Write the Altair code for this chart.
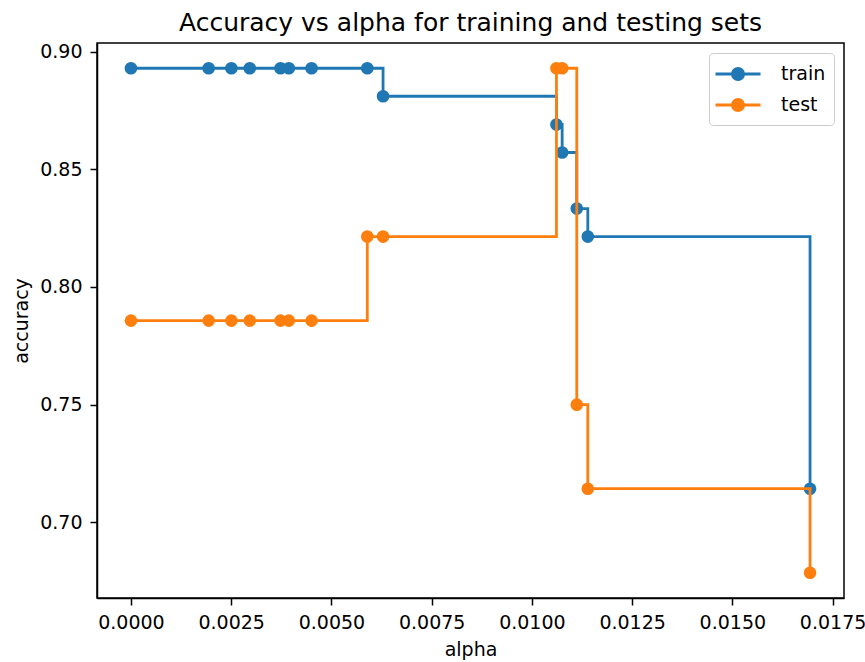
import altair as alt
import pandas as pd

# Cost-complexity pruning path: alpha values and accuracies per tree
alphas = [0.0, 0.001938, 0.002505, 0.002963, 0.00373, 0.003938, 0.004505,
          0.005895, 0.006288, 0.010613, 0.010755, 0.01112, 0.011395, 0.016938]
train_scores = [0.8929, 0.8929, 0.8929, 0.8929, 0.8929, 0.8929, 0.8929,
                0.8929, 0.8810, 0.8690, 0.8571, 0.8333, 0.8214, 0.7143]
test_scores = [0.7857, 0.7857, 0.7857, 0.7857, 0.7857, 0.7857, 0.7857,
               0.8214, 0.8214, 0.8929, 0.8929, 0.7500, 0.7143, 0.6786]

series = ["train", "test"]
colors = ["#1f77b4", "#ff7f0e"]
x_ticks = [0.0, 0.0025, 0.005, 0.0075, 0.01, 0.0125, 0.015, 0.0175]
y_ticks = [0.70, 0.75, 0.80, 0.85, 0.90]

rows = []
for name, scores in zip(series, [train_scores, test_scores]):
    for a, s in zip(alphas, scores):
        rows.append({"alpha": a, "accuracy": s, "set": name})
df = pd.DataFrame(rows)

# 5% data margins on both axes
def padded(lo, hi, frac=0.05):
    span = hi - lo
    return [lo - frac * span, hi + frac * span]

all_scores = train_scores + test_scores
x_dom = padded(min(alphas), max(alphas))
y_dom = padded(min(all_scores), max(all_scores))

FONT = "DejaVu Sans"
# legend glyph: a short line with a filled dot in the middle
legend_symbol = "M-2,0H2M-0.5,0A0.5,0.5 0 1,1 0.5,0A0.5,0.5 0 1,1 -0.5,0Z"

base = alt.Chart(df).encode(
    x=alt.X("alpha:Q",
            scale=alt.Scale(domain=x_dom, nice=False, zero=False),
            axis=alt.Axis(values=x_ticks, format=".4f", title="alpha")),
    y=alt.Y("accuracy:Q",
            scale=alt.Scale(domain=y_dom, nice=False, zero=False),
            axis=alt.Axis(values=y_ticks, format=".2f", title="accuracy")),
    color=alt.Color("set:N",
                    scale=alt.Scale(domain=series, range=colors),
                    legend=alt.Legend(
                        title=None, orient="top-right", offset=10,
                        symbolType=legend_symbol, symbolSize=506,
                        symbolStrokeWidth=2.8, symbolOpacity=1,
                        symbolOffset=8, labelOffset=30,
                        labelFontSize=19, labelFont=FONT, labelColor="black",
                        padding=8, rowPadding=6,
                        fillColor="white", strokeColor="#cccccc",
                        cornerRadius=4)),
)

layers = []
for name in series:
    sub = base.transform_filter(alt.datum.set == name)
    layers.append(sub.mark_line(interpolate="step-after", strokeWidth=2.8))
    layers.append(sub.mark_point(filled=True, size=160, opacity=1, shape="circle"))

chart = alt.layer(*layers).properties(
    width=747,
    height=555,
    title="Accuracy vs alpha for training and testing sets",
    autosize=alt.AutoSizeParams(type="none"),
    padding={"left": 97, "top": 43, "right": 21, "bottom": 64},
).configure_view(
    stroke="black", strokeWidth=1.5
).configure_axis(
    grid=False, domainColor="black", domainWidth=1.5,
    tickColor="black", tickWidth=1.5, tickSize=7,
    labelPadding=8, labelFont=FONT, labelFontSize=19, labelColor="black",
    labelFlush=False, labelOverlap=False,
    titleFont=FONT, titleFontSize=19, titleColor="black",
    titleFontWeight="normal", titlePadding=8,
).configure_title(
    font=FONT, fontSize=25, fontWeight="normal", color="black",
    anchor="middle", offset=7, baseline="alphabetic",
)

chart.save("out.html", embed_options={"renderer": "svg", "actions": False})
